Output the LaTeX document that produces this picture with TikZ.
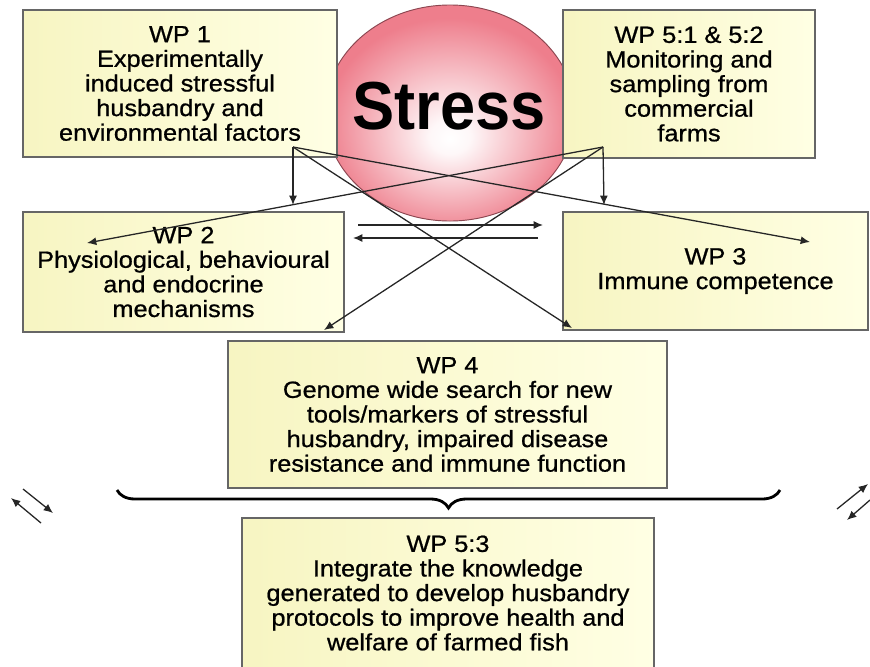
\documentclass[tikz,border=0pt]{standalone}
\usepackage{fontspec}
\setmainfont{Liberation Sans}
\newfontfamily\wpfont{Liberation Sans}[FakeStretch=1.08,FakeBold=0.8]
\newfontfamily\stressfont{Liberation Sans}[FakeStretch=0.93]
\usetikzlibrary{arrows.meta,decorations.pathreplacing,shapes.geometric}
\definecolor{boxl}{RGB}{247,245,194}
\definecolor{boxr}{RGB}{255,255,228}
\definecolor{stresspink}{RGB}{238,126,140}
\definecolor{rimpink}{RGB}{140,70,80}
\pgfdeclareradialshading{stressball}{\pgfpoint{0bp}{-6bp}}{color(0bp)=(white); color(4bp)=(white!94!stresspink); color(25bp)=(stresspink); color(50bp)=(stresspink)}
\begin{document}
\begin{tikzpicture}[x=0.03cm, y=-0.03cm, every node/.style={font=\wpfont\fontsize{20}{21}\selectfont}, wp/.style={draw=black!60,line width=1.3pt,left color=boxl,right color=boxr,align=center,inner sep=0pt}, con/.style={draw=black!85,line width=1.1pt,-{Latex[length=0.28cm,width=0.24cm]}}]
\useasboundingbox (0,0) rectangle (870,666);
\clip (0,0) rectangle (870,666);
% stress ball behind the top row
\node[ellipse,draw=rimpink,line width=0.8pt,shading=stressball,minimum width=7.5cm,minimum height=6.48cm] (ball) at (450,113) {};
\node[font=\stressfont\bfseries\fontsize{58}{60}\selectfont] (stress) at (449,106) {Stress};
% top row
\node[wp,minimum width=9.42cm,minimum height=4.41cm] (wp1) at (180,83.5) {WP 1\\Experimentally\\induced stressful\\husbandry and\\environmental factors};
\node[wp,minimum width=7.56cm,minimum height=4.44cm] (wp51) at (689,84) {WP 5:1 \& 5:2\\Monitoring and\\sampling from\\commercial\\farms};
% middle row
\node[wp,minimum width=9.63cm,minimum height=3.6cm] (wp2) at (183.5,272) {WP 2\\Physiological, behavioural\\and endocrine\\mechanisms};
\node[wp,minimum width=9.15cm,minimum height=3.54cm] (wp3) at (715.5,271) {WP 3\\Immune competence};
\node[wp,minimum width=13.17cm,minimum height=4.41cm] (wp4) at (447.5,414.5) {WP 4\\Genome wide search for new\\tools/markers of stressful\\husbandry, impaired disease\\resistance and immune function};
% bottom
\node[wp,minimum width=12.36cm,minimum height=4.5cm] (wp53) at (448,593) {WP 5:3\\Integrate the knowledge\\generated to develop husbandry\\protocols to improve health and\\welfare of farmed fish};
% fan-out from WP 1 and WP 5:1
\coordinate (f1) at (293,147); \coordinate (f5) at (603,147);
\coordinate (d1) at (293,205); \coordinate (c1) at (572,328); \coordinate (r1) at (810,242);
\coordinate (d5) at (604,205); \coordinate (l5) at (87,243); \coordinate (c5) at (324,330);
\draw[con] (f1) -- (d1); \draw[con] (f1) -- (c1); \draw[con] (f1) -- (r1);
\draw[con] (f5) -- (d5); \draw[con] (f5) -- (l5); \draw[con] (f5) -- (c5);
% WP 2 <-> WP 3
\coordinate (h1) at (358,225); \coordinate (h2) at (543,225); \coordinate (h3) at (538,238); \coordinate (h4) at (353,238);
\draw[con] (h1) -- (h2); \draw[con] (h3) -- (h4);
% side exchange arrows
\coordinate (sl1) at (23,489); \coordinate (sl2) at (53,513); \coordinate (sl3) at (41,523); \coordinate (sl4) at (11,498);
\draw[con] (sl1) -- (sl2); \draw[con] (sl3) -- (sl4);
\coordinate (sr1) at (837,509); \coordinate (sr2) at (868,484); \coordinate (sr3) at (870,500); \coordinate (sr4) at (847,520);
\draw[con] (sr1) -- (sr2); \draw[con] (sr3) -- (sr4);
% brace over WP 5:3
\coordinate (bl) at (117,490); \coordinate (br) at (780,490);
\draw[line width=2.4pt,decorate,decoration={brace,mirror,amplitude=0.54cm}] (bl) -- (br);
\end{tikzpicture}
\end{document}
